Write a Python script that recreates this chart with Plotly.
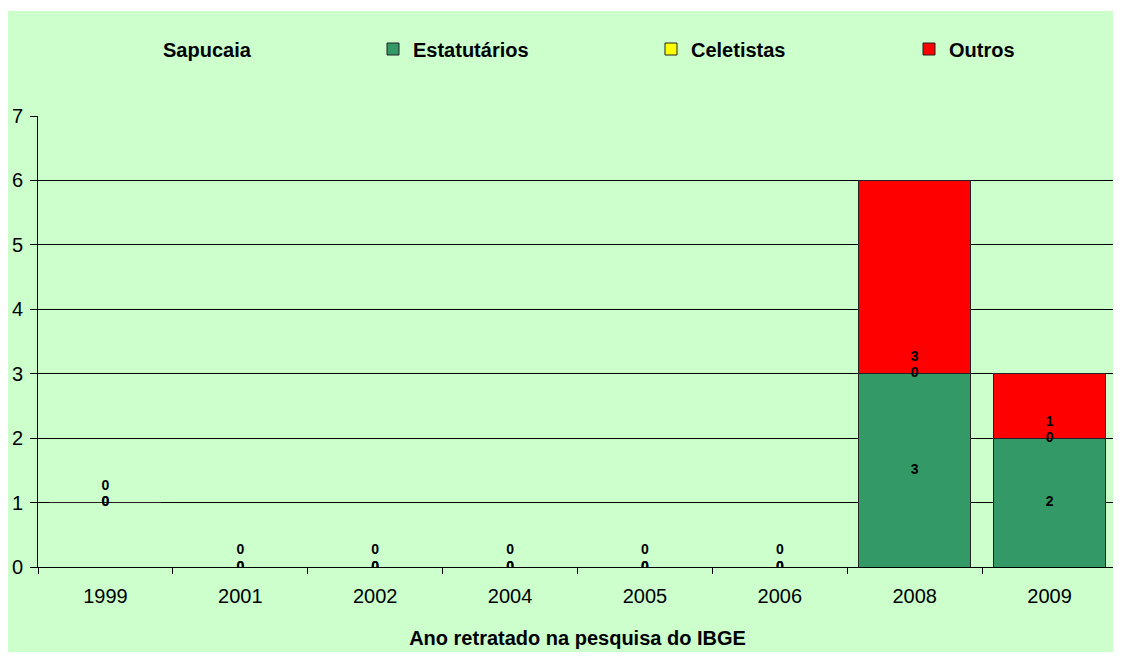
import plotly.graph_objects as go

# ---- data ----
years = ["1999", "2001", "2002", "2004", "2005", "2006", "2008", "2009"]
sapucaia = [1, 0, 0, 0, 0, 0, 0, 0]          # unfilled base series
estatutarios = [0, 0, 0, 0, 0, 0, 3, 2]
celetistas = [0, 0, 0, 0, 0, 0, 0, 0]
outros = [0, 0, 0, 0, 0, 0, 3, 1]
y_ticks = [0, 1, 2, 3, 4, 5, 6, 7]
x_title = "Ano retratado na pesquisa do IBGE"

# ---- geometry / style (screen px; page body adds an 8px offset) ----
OFF = 8
W, H = 1121 - OFF, 661 - OFF
L, R, T, B = 38 - OFF, 1117 - OFF, 116 - OFF, 567 - OFF
BG = "#CCFFCC"
FONT = "Liberation Sans, Arial, sans-serif"
C_EST, C_CEL, C_OUT = "#339966", "#FFFF00", "#FF0000"
LIFT = 0.25  # data-label lift above base for 'Outros'

def px_x(p):
    return (p - OFF - L) / (R - L)

def px_y(p):
    return (B - (p - OFF)) / (B - T)

est_base = list(sapucaia)
cel_base = [a + b for a, b in zip(est_base, estatutarios)]
out_base = [a + b for a, b in zip(cel_base, celetistas)]

fig = go.Figure()
bar_line = dict(color="#222222", width=1)
fig.add_trace(go.Bar(x=years, y=sapucaia, name="Sapucaia", legend="legend",
                     marker=dict(color="rgba(0,0,0,0)", line=dict(width=0))))
fig.add_trace(go.Bar(x=years, y=estatutarios, name="Estatutários", legend="legend2",
                     marker=dict(color=C_EST, line=bar_line)))
fig.add_trace(go.Bar(x=years, y=celetistas, name="Celetistas", legend="legend3",
                     marker=dict(color=C_CEL, line=bar_line)))
fig.add_trace(go.Bar(x=years, y=outros, name="Outros", legend="legend4",
                     marker=dict(color=C_OUT, line=bar_line)))

lab_font = dict(family=FONT, size=14, color="black", weight="bold")
for vals, ys in [
    (estatutarios, [b + v / 2 for b, v in zip(est_base, estatutarios)]),
    (celetistas, [b + v / 2 for b, v in zip(cel_base, celetistas)]),
    (outros, [b + LIFT for b in out_base]),
]:
    fig.add_trace(go.Scatter(x=years, y=ys, mode="text", text=[str(v) for v in vals],
                             textposition="middle center", textfont=lab_font,
                             showlegend=False, hoverinfo="skip"))

leg_font = dict(family=FONT, size=20, color="black", weight="bold")
def leg(xpx):
    return dict(x=px_x(xpx), y=px_y(49), xanchor="left", yanchor="middle",
                orientation="h", bgcolor="rgba(0,0,0,0)", borderwidth=0,
                font=leg_font, traceorder="normal")

fig.update_layout(
    width=W, height=H,
    margin=dict(l=L, r=W - R, t=T, b=H - B, autoexpand=False),
    paper_bgcolor="white", plot_bgcolor="rgba(0,0,0,0)",
    barmode="stack", bargap=0.17,
    font=dict(family=FONT, size=20, color="black"),
    legend=leg(123), legend2=leg(373), legend3=leg(651), legend4=leg(909),
    shapes=[dict(type="rect", xref="paper", yref="paper", layer="below",
                 x0=px_x(8), x1=px_x(1118), y0=px_y(652), y1=px_y(11),
                 fillcolor=BG, line=dict(width=0))],
    xaxis=dict(type="category", showline=True, linecolor="black", linewidth=1,
               ticks="outside", ticklen=6, tickcolor="black", tickson="boundaries",
               showgrid=False, ticklabelstandoff=11, automargin=False,
               tickfont=dict(family=FONT, size=20, color="black"),
               title=dict(text=x_title, standoff=24,
                          font=dict(family=FONT, size=20, color="black", weight="bold"))),
    yaxis=dict(range=[0, 7], tickvals=y_ticks, showline=True, linecolor="black",
               linewidth=1, ticks="outside", ticklen=7, tickcolor="black",
               showgrid=True, gridcolor="black", gridwidth=1, zeroline=False,
               automargin=False, ticklabelstandoff=3,
               tickfont=dict(family=FONT, size=20, color="black")),
)

fig.write_html("out.html")
